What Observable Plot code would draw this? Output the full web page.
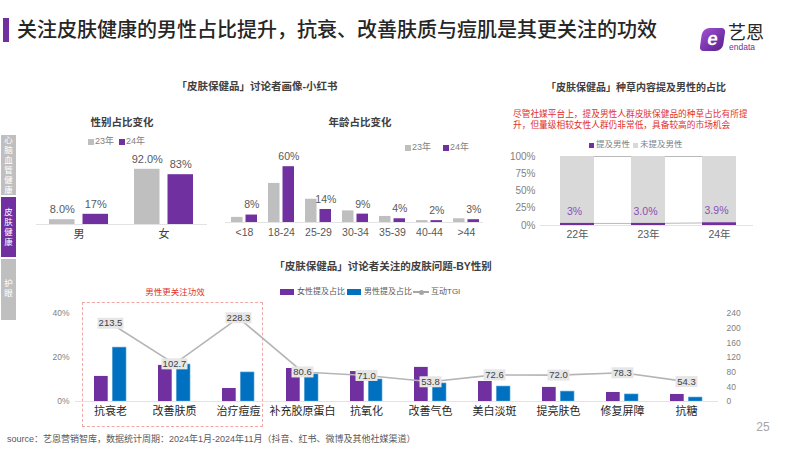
<!DOCTYPE html>
<html><head><meta charset="utf-8">
<script src="https://cdn.jsdelivr.net/npm/d3@7"></script>
<script src="https://cdn.jsdelivr.net/npm/@observablehq/plot@0.6"></script>
<style>
html,body{margin:0;padding:0;background:#fff;}
#page{position:relative;width:799px;height:450px;background:#fff;overflow:hidden;font-family:'Liberation Sans','Noto Sans CJK SC',sans-serif;}
#page svg{overflow:visible;}
</style>
</head><body>
<div id="page"></div>
<script>
// ---------------- DATA ----------------
const genderCats = ["男", "女"];
const gender23 = [8.0, 92.0];
const gender24 = [17, 83];
const genderLabels23 = ["8.0%", "92.0%"];
const genderLabels24 = ["17%", "83%"];

const ageCats = ["<18", "18-24", "25-29", "30-34", "35-39", "40-44", ">44"];
const age23 = [5.5, 42, 25, 12.5, 6.5, 2, 4];
const age24 = [8, 60, 14, 9, 4, 2, 3];

const yearCats = ["22年", "23年", "24年"];
const maleMention = [3, 3.0, 3.9];
const maleMentionLabels = ["3%", "3.0%", "3.9%"];
const totalShare = [100, 100, 100];
const shareTicks = [0, 25, 50, 75, 100];

const effectCats = ["抗衰老", "改善肤质", "治疗痘痘", "补充胶原蛋白", "抗氧化", "改善气色", "美白淡斑", "提亮肤色", "修复屏障", "抗糖"];
const femaleShare = [11.4, 16.4, 5.9, 15.0, 13.6, 15.5, 9.1, 6.4, 4.1, 3.2];
const maleShare = [24.5, 16.8, 13.2, 12.3, 10.0, 8.2, 6.8, 4.5, 3.2, 1.8];
const tgi = [213.5, 102.7, 228.3, 80.6, 71.0, 53.8, 72.6, 72.0, 78.3, 54.3];
const shareAxisTicks = [0, 20, 40];
const tgiAxisTicks = [0, 40, 80, 120, 160, 200, 240];
const TGI_PER_PCT = 6; // 240 TGI aligns with 40%

// ---------------- HELPERS ----------------
const FONT = "'Liberation Sans','Noto Sans CJK SC',sans-serif";
const PURPLE = "#7030a0", BLUE = "#0070c0", GREY = "#bfbfbf";
const page = document.getElementById("page");

function addText(str, x, y, o = {}) {
  const d = document.createElement("div");
  const size = o.size || 10;
  d.textContent = str;
  Object.assign(d.style, {
    position: "absolute", left: x + "px", top: (y - size * 0.65) + "px",
    fontSize: size + "px", lineHeight: (size * 1.3) + "px",
    color: o.color || "#404040", fontWeight: o.weight || "normal",
    whiteSpace: "nowrap", fontFamily: FONT
  });
  if (o.anchor === "middle") d.style.transform = "translateX(-50%)";
  if (o.anchor === "end") d.style.transform = "translateX(-100%)";
  page.appendChild(d);
  return d;
}
function addBox(x, y, w, h, css = {}) {
  const d = document.createElement("div");
  Object.assign(d.style, {position: "absolute", left: x + "px", top: y + "px", width: w + "px", height: h + "px", boxSizing: "border-box"}, css);
  page.appendChild(d);
  return d;
}
function place(node, left, top) {
  node.style.position = "absolute";
  node.style.left = left + "px";
  node.style.top = top + "px";
  page.appendChild(node);
}
const plotStyle = {background: "transparent", fontFamily: FONT, overflow: "visible"};

// ---------------- HEADER ----------------
addBox(3, 18, 6, 24, {background: PURPLE});
addText("关注皮肤健康的男性占比提升，抗衰、改善肤质与痘肌是其更关注的功效", 17, 30, {size: 20, color: "#262626", weight: "500"});
// logo
const logo = addBox(701, 28, 23, 23, {background: "linear-gradient(135deg,#a050d0,#5a2090)", borderRadius: "7px 4px 7px 4px", transform: "skewX(-8deg)"});
const e = document.createElement("div");
e.textContent = "e";
Object.assign(e.style, {color: "#fff", fontWeight: "bold", fontSize: "19px", lineHeight: "21px", textAlign: "center", fontFamily: FONT});
logo.appendChild(e);
addText("艺恩", 728, 34, {size: 18, color: "#262626"});
addText("endata", 729, 48, {size: 8.5, color: PURPLE});

// ---------------- SIDEBAR ----------------
function sideBlock(y, h, chars, bg, pad) {
  const b = addBox(1, y, 15, h, {background: bg, color: "#fff", fontSize: "8.5px", lineHeight: "10px", textAlign: "center", fontFamily: FONT, paddingTop: pad + "px"});
  b.innerHTML = chars.split("").join("<br>");
}
sideBlock(135, 60, "心脑血管健康", GREY, 0);
sideBlock(197, 60, "皮肤健康", PURPLE, 10);
sideBlock(259, 61, "护眼", GREY, 19);

// ---------------- SECTION TITLES ----------------
addText("「皮肤保健品」讨论者画像-小红书", 257, 87, {size: 10.5, weight: "bold", anchor: "middle"});
addText("性别占比变化", 122, 123, {size: 10.5, weight: "bold", anchor: "middle"});
addText("年龄占比变化", 360, 123, {size: 10.5, weight: "bold", anchor: "middle"});
addText("「皮肤保健品」种草内容提及男性的占比", 636, 87, {size: 10, weight: "bold", anchor: "middle"});
const note = addText("尽管社媒平台上，提及男性人群皮肤保健品的种草占比有所提升，但量级相较女性人群仍非常低，具备较高的市场机会", 513, 115, {size: 8.7, color: "#e0302a"});
Object.assign(note.style, {whiteSpace: "normal", width: "238px", lineHeight: "10.5px", top: "109px"});
addText("「皮肤保健品」讨论者关注的皮肤问题-BY性别", 383, 267, {size: 10.5, weight: "bold", anchor: "middle"});

// legends
function sw(x, y, w, h, c) { addBox(x, y - h / 2, w, h, {background: c}); }
sw(88, 142, 6, 6, GREY); addText("23年", 95, 142, {size: 9, color: "#7f7f7f"});
sw(119, 142, 6, 6, PURPLE); addText("24年", 126, 142, {size: 9, color: "#7f7f7f"});
sw(405, 148, 6, 6, GREY); addText("23年", 412, 148, {size: 9, color: "#7f7f7f"});
sw(443, 148, 6, 6, PURPLE); addText("24年", 450, 148, {size: 9, color: "#7f7f7f"});
sw(589, 145, 5, 5, PURPLE); addText("提及男性", 596, 145, {size: 8.5, color: "#7f7f7f"});
sw(633, 145, 5, 5, "#d9d9d9"); addText("未提及男性", 640, 145, {size: 8.5, color: "#7f7f7f"});
sw(280, 292, 14, 6, PURPLE); addText("女性提及占比", 297, 292, {size: 8, color: "#595959"});
sw(347, 292, 14, 6, BLUE); addText("男性提及占比", 364, 292, {size: 8, color: "#595959"});
addBox(413, 291, 16, 1.5, {background: "#a6a6a6"});
addBox(418.5, 289.5, 5, 5, {background: "#a6a6a6", borderRadius: "50%"});
addText("互动TGI", 431, 292, {size: 8, color: "#595959"});

// annotation
addText("男性更关注功效", 175, 293, {size: 8.5, color: "#e0302a", anchor: "middle"});
addBox(82, 302, 181, 125, {border: "1px dashed #f2a7a7"});

// footer
addText("source：艺恩营销智库，数据统计周期：2024年1月-2024年11月（抖音、红书、微博及其他社媒渠道）", 7, 440, {size: 9, color: "#595959"});
addText("25", 763, 428, {size: 12, color: "#a6a6a6", anchor: "middle"});

// ---------------- CHART A: gender ----------------
const gData = genderCats.map((c, i) => ({cat: c, v23: gender23[i], v24: gender24[i], l23: genderLabels23[i], l24: genderLabels24[i]}));
const chartA = Plot.plot({
  width: 185, height: 110, marginTop: 24, marginBottom: 26, marginLeft: 6, marginRight: 8,
  style: plotStyle,
  x: {domain: genderCats, range: [10.75, 172.25], paddingInner: 0.3, paddingOuter: 0.1},
  y: {domain: [0, 100], axis: null},
  marks: [
    Plot.barY(gData, {x: "cat", y: "v23", fill: GREY, insetRight: 33.5}),
    Plot.barY(gData, {x: "cat", y: "v24", fill: PURPLE, insetLeft: 33.5}),
    Plot.ruleY([0], {stroke: "#e3e3e3", strokeWidth: 1.2}),
    Plot.text(gData, {x: "cat", y: "v23", text: "l23", dx: -16.75, dy: -10, fill: "#595959", fontSize: 11}),
    Plot.text(gData, {x: "cat", y: "v24", text: "l24", dx: 16.75, dy: -10, fill: "#595959", fontSize: 11}),
    Plot.axisX({tickSize: 0, tickPadding: 6, fontSize: 11, color: "#404040", label: null})
  ]
});
place(chartA, 30, 140);

// ---------------- CHART B: age ----------------
const aData = ageCats.map((c, i) => ({cat: c, v23: age23[i], v24: age24[i]}));
const chartB = Plot.plot({
  width: 270, height: 110, marginTop: 26.2, marginBottom: 28, marginLeft: 5, marginRight: 7,
  style: plotStyle,
  x: {domain: ageCats, range: [10, 259.2], paddingInner: 0.3, paddingOuter: 0},
  y: {domain: [0, 60], axis: null},
  marks: [
    Plot.barY(aData, {x: "cat", y: "v23", fill: GREY, insetRight: 14.5}),
    Plot.barY(aData, {x: "cat", y: "v24", fill: PURPLE, insetLeft: 14.5}),
    Plot.ruleY([0], {stroke: "#e3e3e3", strokeWidth: 1.2}),
    Plot.text(aData, {x: "cat", y: "v24", text: d => d.v24 + "%", dx: 7.3, dy: -10, fill: "#595959", fontSize: 10.5}),
    Plot.axisX({tickSize: 0, tickPadding: 6, fontSize: 10.5, color: "#595959", label: null})
  ]
});
place(chartB, 220, 140);

// ---------------- CHART C: share mentioning men ----------------
const cData = yearCats.map((c, i) => ({cat: c, v: maleMention[i], total: totalShare[i], label: maleMentionLabels[i]}));
const chartC = Plot.plot({
  width: 270, height: 110, marginTop: 16, marginBottom: 25, marginLeft: 40, marginRight: 17,
  style: plotStyle,
  x: {domain: yearCats, range: [40, 255], paddingInner: 0.526, paddingOuter: 0.263},
  y: {domain: [0, 100]},
  marks: [
    Plot.lineY(cData, {x: "cat", y: "total", stroke: "#a6a6a6", strokeWidth: 0.8}),
    Plot.lineY(cData, {x: "cat", y: "v", stroke: "#a6a6a6", strokeWidth: 0.8}),
    Plot.barY(cData, {x: "cat", y: "total", fill: "#d9d9d9"}),
    Plot.barY(cData, {x: "cat", y: "v", fill: PURPLE}),
    Plot.ruleY([0], {stroke: "#e3e3e3", strokeWidth: 1.2}),
    Plot.text(cData, {x: "cat", y: "v", text: "label", dx: -3, dy: -12, fill: "#8a4fb8", fontSize: 10.5}),
    Plot.axisY({ticks: shareTicks, tickFormat: d => d + "%", tickSize: 0, tickPadding: 5, fontSize: 10, color: "#7f7f7f", label: null}),
    Plot.axisX({tickSize: 0, tickPadding: 5, fontSize: 10.5, color: "#595959", label: null})
  ]
});
place(chartC, 500, 140);

// ---------------- CHART D: concerns by gender ----------------
const dData = effectCats.map((c, i) => ({cat: c, f: femaleShare[i], m: maleShare[i], tgi: tgi[i], t: tgi[i].toFixed(1)}));
function boxSymbol(w, h) {
  return {draw(ctx) { ctx.rect(-w / 2, -h / 2, w, h); }};
}
const chartD = Plot.plot({
  width: 799, height: 140, marginTop: 23, marginBottom: 29, marginLeft: 75, marginRight: 81,
  style: plotStyle,
  x: {domain: effectCats, range: [74.7, 721.2], paddingInner: 0.5, paddingOuter: 0.25},
  y: {domain: [0, 40]},
  marks: [
    Plot.barY(dData, {x: "cat", y: "f", fill: PURPLE, insetRight: 18.3}),
    Plot.barY(dData, {x: "cat", y: "m", fill: BLUE, insetLeft: 18.3, stroke: "#5aa7e0", strokeWidth: 0.6}),
    Plot.ruleY([0], {stroke: "#e3e3e3", strokeWidth: 1.2}),
    Plot.lineY(dData, {x: "cat", y: d => d.tgi / TGI_PER_PCT, stroke: "#b5b5b5", strokeWidth: 1.6}),
    Plot.dot(dData.filter(d => d.t.length > 4), {x: "cat", y: d => d.tgi / TGI_PER_PCT, symbol: boxSymbol(26, 11), r: 5, fill: "#e7e6e6", stroke: "none"}),
    Plot.dot(dData.filter(d => d.t.length <= 4), {x: "cat", y: d => d.tgi / TGI_PER_PCT, symbol: boxSymbol(22, 11), r: 5, fill: "#e7e6e6", stroke: "none"}),
    Plot.text(dData, {x: "cat", y: d => d.tgi / TGI_PER_PCT, text: "t", fill: "#404040", fontSize: 9.5}),
    Plot.axisY(shareAxisTicks, {anchor: "left", tickFormat: d => d + "%", tickSize: 0, tickPadding: 6, fontSize: 8.5, color: "#7f7f7f", label: null}),
    Plot.axisY(tgiAxisTicks.map(t => t / TGI_PER_PCT), {anchor: "right", tickFormat: d => String(Math.round(d * TGI_PER_PCT)), tickSize: 0, tickPadding: 8, fontSize: 8.5, color: "#7f7f7f", label: null}),
    Plot.axisX({tickSize: 0, tickPadding: 6, fontSize: 11, color: "#262626", label: null})
  ]
});
place(chartD, 0, 290);
</script>
</body></html>
